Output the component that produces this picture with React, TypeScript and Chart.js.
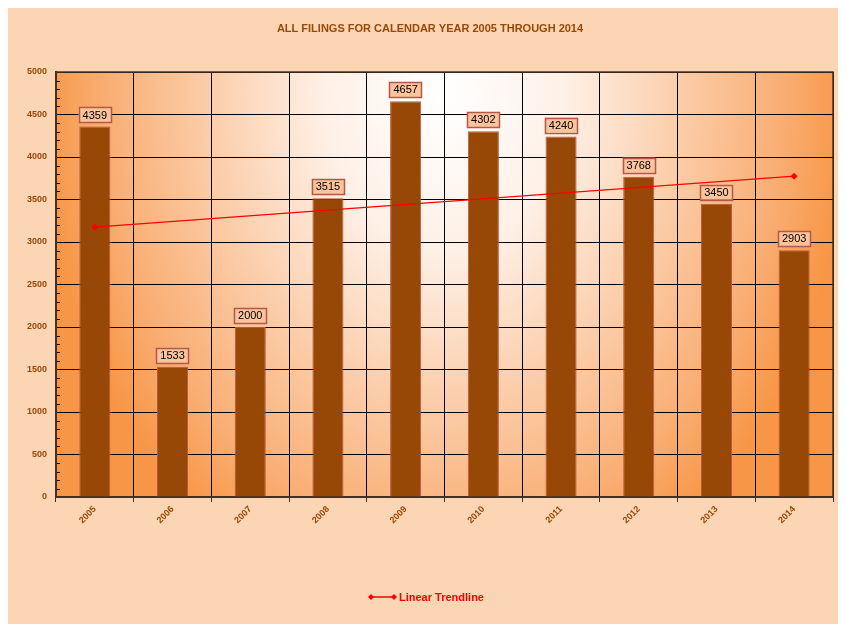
import React, { useEffect, useRef } from 'react';
import { Chart, registerables } from 'chart.js';

Chart.register(...registerables);

const years = ['2005', '2006', '2007', '2008', '2009', '2010', '2011', '2012', '2013', '2014'];
const filings = [4359, 1533, 2000, 3515, 4657, 4302, 4240, 3768, 3450, 2903];
const trendline = [3175, null, null, null, null, null, null, null, null, 3775];
const yMax = 5000;
const yStep = 500;
const yMinorStep = 100;
const titleText = 'ALL FILINGS FOR CALENDAR YEAR 2005 THROUGH 2014';
const legendText = 'Linear Trendline';

const FONT = '"Liberation Sans", Arial, sans-serif';
const AXIS_COLOR = '#984807';

const chartPlugin = {
  id: 'custom',
  beforeDraw(chart: any) {
    const { ctx, chartArea: a } = chart;
    const w = a.right - a.left;
    const h = a.bottom - a.top;
    const cx = a.left + w * 0.5;
    const cy = a.top + h * 0.05;
    const rx = w * 0.52;
    const ry = h * 1.25;
    ctx.save();
    ctx.beginPath();
    ctx.rect(a.left, a.top, w, h);
    ctx.clip();
    ctx.translate(cx, cy);
    ctx.scale(1, ry / rx);
    const g = ctx.createRadialGradient(0, 0, 0, 0, 0, rx);
    g.addColorStop(0, '#FFFFFF');
    g.addColorStop(0.3, '#FEF0E6');
    g.addColorStop(0.6, '#FBCBA6');
    g.addColorStop(0.85, '#F9AC70');
    g.addColorStop(1, '#F79646');
    ctx.fillStyle = g;
    ctx.fillRect(-rx * 2, -rx * 2, rx * 4, rx * 4);
    ctx.restore();
  },
  beforeDatasetsDraw(chart: any) {
    const { ctx, chartArea: a, scales } = chart;
    const y = scales.y;
    ctx.save();
    ctx.strokeStyle = '#000000';
    ctx.lineWidth = 1;
    for (let v = yMinorStep; v < yMax; v += yMinorStep) {
      if (v % yStep === 0) continue;
      const py = Math.round(y.getPixelForValue(v)) + 0.5;
      ctx.beginPath();
      ctx.moveTo(a.left, py);
      ctx.lineTo(a.left + 4, py);
      ctx.stroke();
    }
    ctx.strokeStyle = '#4A3424';
    ctx.lineWidth = 1.5;
    ctx.strokeRect(a.left, a.top, a.right - a.left, a.bottom - a.top);
    ctx.restore();
  },
  afterDraw(chart: any) {
    const { ctx } = chart;
    ctx.save();
    // title
    ctx.fillStyle = AXIS_COLOR;
    ctx.font = `bold 11px ${FONT}`;
    ctx.textAlign = 'center';
    ctx.textBaseline = 'middle';
    ctx.fillText(titleText, 422, 25);

    // data labels
    const meta = chart.getDatasetMeta(0);
    ctx.font = `11px ${FONT}`;
    meta.data.forEach((bar: any, i: number) => {
      const txt = String(filings[i]);
      const tw = ctx.measureText(txt).width;
      const bw = tw + 8;
      const bh = 15;
      const bx = bar.x - bw / 2;
      const by = bar.y - 4 - bh;
      ctx.fillStyle = '#FBC49C';
      ctx.fillRect(bx, by, bw, bh);
      ctx.strokeStyle = '#B4584A';
      ctx.lineWidth = 1.5;
      ctx.strokeRect(Math.round(bx) + 0.5, Math.round(by) + 0.5, Math.round(bw), bh);
      ctx.fillStyle = '#000000';
      ctx.textAlign = 'center';
      ctx.textBaseline = 'middle';
      ctx.fillText(txt, bar.x, by + bh / 2 + 0.5);
    });

    // legend
    const ly = 593;
    const lx0 = 363;
    const lx1 = 386;
    ctx.strokeStyle = '#FF0000';
    ctx.fillStyle = '#FF0000';
    ctx.lineWidth = 1.5;
    ctx.beginPath();
    ctx.moveTo(lx0, ly);
    ctx.lineTo(lx1, ly);
    ctx.stroke();
    [lx0, lx1].forEach((px) => {
      ctx.beginPath();
      ctx.moveTo(px, ly - 3);
      ctx.lineTo(px + 3, ly);
      ctx.lineTo(px, ly + 3);
      ctx.lineTo(px - 3, ly);
      ctx.closePath();
      ctx.fill();
    });
    ctx.font = `bold 11px ${FONT}`;
    ctx.textAlign = 'left';
    ctx.fillText(legendText, 391, ly + 0.5);
    ctx.restore();
  },
};

export default function App() {
  const ref = useRef<HTMLCanvasElement | null>(null);
  useEffect(() => {
    if (!ref.current) return;
    const chart = new Chart(ref.current, {
      type: 'bar',
      data: {
        labels: years,
        datasets: [
          {
            type: 'bar',
            label: 'Filings',
            data: filings,
            backgroundColor: '#974806',
            borderColor: '#B9573F',
            borderWidth: 1,
            barPercentage: 0.8,
            categoryPercentage: 0.5,
            order: 2,
          },
          {
            type: 'line',
            label: legendText,
            data: trendline as any,
            borderColor: '#FF0000',
            backgroundColor: '#FF0000',
            borderWidth: 1.5,
            pointStyle: 'rectRot',
            pointRadius: 3.5,
            pointBorderWidth: 0,
            spanGaps: true,
            order: 1,
          },
        ],
      },
      options: {
        responsive: false,
        animation: false,
        events: [],
        layout: { padding: { left: 0, top: 68, right: 5, bottom: 87 } },
        plugins: {
          legend: { display: false },
          title: { display: false },
          tooltip: { enabled: false },
        },
        scales: {
          x: {
            offset: true,
            grid: {
              offset: true,
              color: '#000000',
              lineWidth: 1,
              drawTicks: true,
              tickLength: 5,
              tickColor: '#333333',
            },
            border: { color: '#3A2A1C', width: 2 },
            ticks: {
              color: AXIS_COLOR,
              font: { family: FONT, size: 9, weight: 'bold' },
              minRotation: 45,
              maxRotation: 45,
              padding: 2,
            },
            afterFit(scale: any) {
              scale.height = 40;
            },
          },
          y: {
            min: 0,
            max: yMax,
            grid: {
              color: '#000000',
              lineWidth: 1,
              drawTicks: false,
            },
            border: { color: '#3A2A1C', width: 2 },
            ticks: {
              stepSize: yStep,
              color: AXIS_COLOR,
              font: { family: FONT, size: 9, weight: 'bold' },
              padding: 9,
              callback: (v: any) => String(v),
            },
            afterFit(scale: any) {
              scale.width = 48;
            },
          },
        },
      },
      plugins: [chartPlugin],
    });
    return () => chart.destroy();
  }, []);

  return (
    <div style={{ marginTop: -4, width: 830, height: 620, background: '#FCD5B5' }}>
      <canvas ref={ref} width={830} height={620} style={{ display: 'block' }} />
    </div>
  );
}
